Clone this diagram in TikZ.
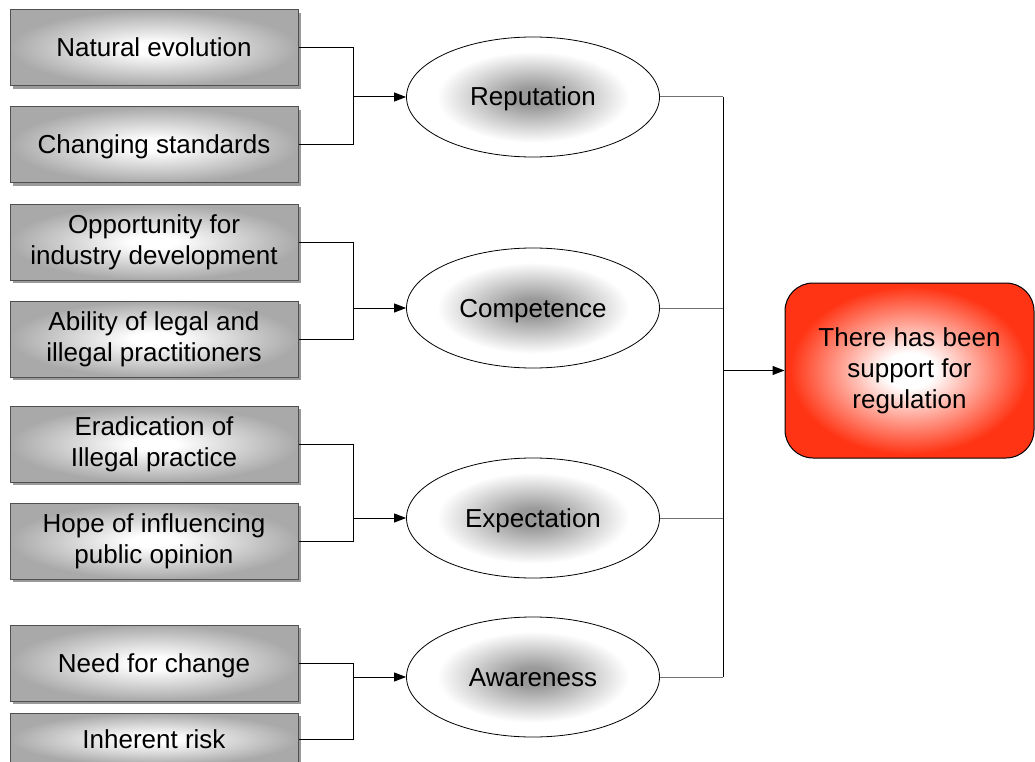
\documentclass[tikz,border=0pt]{standalone}
\usepackage{fontspec}
\setmainfont{Liberation Sans}
\usetikzlibrary{shapes.geometric,shadows,arrows.meta}

\definecolor{boxedge}{HTML}{A9A9A9}
\definecolor{boxline}{HTML}{505050}
\definecolor{boxshadow}{HTML}{9A9A9A}
\definecolor{ovalcore}{HTML}{9A9A9A}
\definecolor{goalred}{HTML}{FF3414}
\definecolor{feedline}{HTML}{707070}

\pgfdeclareradialshading{boxglow}{\pgfpoint{0bp}{0bp}}{%
  color(0bp)=(white); color(4bp)=(white); color(25bp)=(boxedge); color(50bp)=(boxedge)}
\pgfdeclareradialshading{ovalglow}{\pgfpoint{0bp}{0bp}}{%
  color(0bp)=(ovalcore); color(4bp)=(ovalcore); color(19bp)=(white); color(50bp)=(white)}
\pgfdeclareradialshading{goalglow}{\pgfpoint{0bp}{0bp}}{%
  color(0bp)=(white); color(5bp)=(white); color(24bp)=(goalred); color(50bp)=(goalred)}

\tikzset{
  % fixed line metrics, so descenders do not move the text off centre
  txt/.style={font=\fontsize{26}{31}\selectfont, align=center, text=black,
    execute at begin node={\rule{0pt}{23.5pt}},
    execute at end node={\rule[-5.5pt]{0pt}{0pt}}},
  factor/.style={txt, rectangle, draw=boxline, line width=1pt,
    minimum width=288pt, minimum height=76pt, inner sep=0pt,
    shading=boxglow,
    drop shadow={shadow xshift=3pt, shadow yshift=-3pt, fill=boxshadow, opacity=1}},
  driver/.style={txt, ellipse, draw=black, line width=0.8pt,
    minimum width=253pt, minimum height=120pt, inner sep=0pt, shading=ovalglow},
  goalbox/.style={txt, rectangle, rounded corners=28pt, draw=black, line width=1pt,
    minimum width=249pt, minimum height=175pt, inner sep=0pt, shading=goalglow},
  link/.style={draw=black, line width=1pt},
  feed/.style={draw=feedline, line width=1pt},
  arrowlink/.style={link, -{Triangle[length=12pt,width=9pt]}}
}

\begin{document}
\begin{tikzpicture}[x=1pt, y=-1pt]
  \useasboundingbox (0,0) rectangle (1035,762);
  \clip (0,0) rectangle (1035,762);

  % contributing factors
  \node[factor] (b1) at (154,48)  {Natural evolution};
  \node[factor] (b2) at (154,145) {Changing standards};
  \node[factor] (b3) at (154,242) {Opportunity for\\industry development};
  \node[factor] (b4) at (154,339) {Ability of legal and\\illegal practitioners};
  \node[factor] (b5) at (154,444) {Eradication of\\Illegal practice};
  \node[factor] (b6) at (154,541) {Hope of influencing\\public opinion};
  \node[factor] (b7) at (154,663) {Need for change};
  \node[factor, minimum height=52pt] (b8) at (154,739) {Inherent risk};

  % drivers
  \node[driver] (e1) at (533,97)  {Reputation};
  \node[driver] (e2) at (533,308) {Competence};
  \node[driver] (e3) at (533,518) {Expectation};
  \node[driver] (e4) at (533,677) {Awareness};

  % outcome
  \node[goalbox] (goal) at (909.5,370.5) {There has been\\support for\\regulation};

  % junction points
  \coordinate (m1) at (353,97);
  \coordinate (m2) at (353,308);
  \coordinate (m3) at (353,518);
  \coordinate (m4) at (353,677);
  \coordinate (s1) at (723,97);
  \coordinate (s4) at (723,677);
  \coordinate (sg) at (723,370.5);

  % factor brackets into drivers
  \foreach \a/\b/\m/\e in {b1/b2/m1/e1, b3/b4/m2/e2, b5/b6/m3/e3, b7/b8/m4/e4}{
    \draw[link] (\a.east) -| (\m);
    \draw[link] (\b.east) -| (\m);
    \draw[arrowlink] (\m) -- (\e.west);
  }

  % drivers into the outcome
  \foreach \e in {e1,e2,e3,e4}{
    \draw[feed] (\e.east) -- (\e.east -| sg);
  }
  \draw[link] (s1) -- (s4);
  \draw[arrowlink] (sg) -- (goal.west);
\end{tikzpicture}
\end{document}
